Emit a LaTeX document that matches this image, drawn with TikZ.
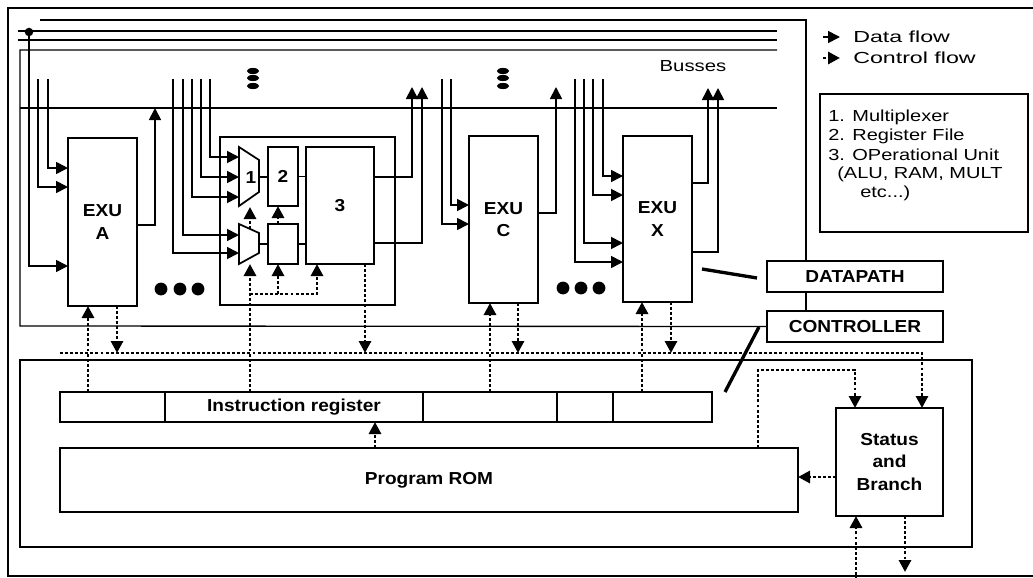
\documentclass[tikz,border=0pt]{standalone}
\usepackage{fontspec}
\setmainfont{Liberation Sans}
\usetikzlibrary{fit,arrows.meta}
\newcommand\hs[2]{\scalebox{#1}[1]{#2}}
\begin{document}
\begin{tikzpicture}[x=0.75pt,y=-0.75pt,
  frame/.style={line width=2.2pt},
  thin/.style={line width=1pt},
  wire/.style={line width=1.3pt},
  blk/.style={draw,line width=2.2pt,inner sep=0pt,outer sep=0pt},
  sblk/.style={draw,line width=1.5pt,inner sep=0pt,outer sep=0pt},
  irc/.style={draw,line width=1pt,inner sep=0pt,outer sep=0pt},
  btxt/.style={inner sep=0pt,align=center,font=\bfseries\fontsize{13}{17}\selectfont},
  ctl/.style={line width=2.2pt,dash pattern=on 2.2pt off 1.6pt},
  arr/.style={-{Triangle[length=9pt,width=9pt]}},
  lbl/.style={font=\fontsize{12}{14}\selectfont,inner sep=0pt},
  pointer/.style={line width=2.5pt}
]
\useasboundingbox (0,0) rectangle (1033,578);

% outer frame
\draw[frame] (1033,8) -- (8,8) -- (8,576) -- (1033,576);

% ---------------- boxes ----------------
\node[blk, fit={(68,138)(137,306)}] (exuA) {};
\node[blk, fit={(220,137)(395,305)}] (mid) {};
\node[sblk, fit={(268,147)(298,206)}] (reg2) {};
\node[sblk, fit={(268,224)(298,264)}] (lreg) {};
\node[sblk, fit={(306,147)(374,264)}] (u3) {};
\node[blk, fit={(469,136)(538,303)}] (exuC) {};
\node[blk, fit={(623,136)(692,302)}] (exuX) {};
\node[blk, fit={(767,261)(943,292)}] (dp) {};
\node[blk, fit={(767,311)(943,342)}] (ctl) {};
\node[blk, fit={(820,94)(1028,232)}] (leg) {};
\node[draw,thin,inner sep=0pt,outer sep=0pt, fit={(20,360)(972,547)}] (ctrlbox) {};
\node[irc, fit={(60,392)(165,422)}] (ir1) {};
\node[irc, fit={(165,392)(423,422)}] (ir2) {};
\node[irc, fit={(423,392)(557,422)}] (ir3) {};
\node[irc, fit={(557,392)(613,422)}] (ir4) {};
\node[irc, fit={(613,392)(712,422)}] (ir5) {};
\draw[line width=2.2pt] (ir1.north west) rectangle (ir5.south east);
\node[blk, fit={(60,448)(798,512)}] (rom) {};
\node[blk, fit={(836,408)(943,516)}] (stat) {};

% ---------------- box texts ----------------
\node[btxt] (exuAt) at (exuA.center) {\hs{1.1}{EXU}\\\hs{1.1}{A}};
\node[btxt] (reg2t) at (reg2.center) {\hs{1.1}{2}};
\node[btxt] (u3t) at (u3.center) {\hs{1.1}{3}};
\node[btxt] (exuCt) at (exuC.center) {\hs{1.1}{EXU}\\\hs{1.1}{C}};
\node[btxt] (exuXt) at (exuX.center) {\hs{1.1}{EXU}\\\hs{1.1}{X}};
\node[btxt] (dpt) at (dp.center) {\hs{1.1}{DATAPATH}};
\node[btxt] (ctlt) at (ctl.center) {\hs{1.1}{CONTROLLER}};
\node[btxt] (ir2t) at (ir2.center) {\hs{1.1}{Instruction register}};
\node[btxt] (romt) at (rom.center) {\hs{1.1}{Program ROM}};
\node[btxt] (statt) at (stat.center) {\hs{1.1}{Status}\\\hs{1.1}{and}\\\hs{1.1}{Branch}};

% multiplexers
\draw[wire] (239,147) -- (259,160) -- (259,192) -- (239,206) -- cycle;
\node[btxt] (mux1) at (251,178) {\hs{1.1}{1}};
\draw[wire] (239,224) -- (259,233) -- (259,253) -- (239,264) -- cycle;
\coordinate (m1o) at (259,177);
\coordinate (m2o) at (259,244);

% ---------------- datapath outline and busses ----------------
\draw[thin] (40,20) -- (806,20) -- (dp.north -| 806,0);
\draw[thin] (dp.south -| 806,0) -- (ctl.north -| 806,0);
\draw[thin] (18,31) -- (777,31);
\draw[thin] (18,40) -- (777,40);
\draw[thin] (777,50) -- (20,50) -- (20,326) -- (ctl.west);
\draw[thin] (20,108) -- (777,108);
\fill (29,32) circle[radius=3.2pt];
\node[lbl] (bus) at (693,66) {\hs{1.27}{Busses}};

% vertical ellipses
\foreach \yy in {71,78,86}{
  \fill (253,\yy) ellipse [x radius=4.6pt, y radius=2.3pt];
  \fill (503,\yy) ellipse [x radius=4.6pt, y radius=2.3pt];
}
% horizontal dots
\foreach \xx in {161,180,198}{\fill (\xx,289) circle[radius=4.8pt];}
\foreach \xx in {563,581,599}{\fill (\xx,288) circle[radius=4.8pt];}

% ---------------- EXU A ----------------
\draw[wire,arr] (29,32) -- (29,266) -- (exuA.west |- 0,266);
\draw[wire,arr] (38,79) -- (38,187) -- (exuA.west |- 0,187);
\draw[wire,arr] (48,79) -- (48,168) -- (exuA.west |- 0,168);
\draw[wire,arr] (exuA.east |- 0,225) -- (155,225) -- (155,108);

% ---------------- middle block ----------------
\draw[wire,arr] (210,79) -- (210,157) -- (239,157);
\draw[wire,arr] (201,79) -- (201,177) -- (239,177);
\draw[wire,arr] (192,79) -- (192,197) -- (239,197);
\draw[wire,arr] (183,79) -- (183,235) -- (239,235);
\draw[wire,arr] (173,79) -- (173,253) -- (239,253);
\draw[wire] (m1o) -- (reg2.west |- m1o);
\draw[wire] (m2o) -- (lreg.west |- m2o);
\draw[wire] (reg2.east) -- (reg2.east -| u3.west);
\draw[wire] (lreg.east) -- (lreg.east -| u3.west);
\draw[wire,arr] (u3.east |- 0,177) -- (412,177) -- (412,87);
\draw[wire,arr] (u3.east |- 0,243) -- (422,243) -- (422,87);
\draw[ctl,arr] (250,229) -- (250,207);
\draw[ctl,arr] (lreg.north -| 278,0) -- (reg2.south -| 278,0);
\draw[ctl,arr] (ir2.north -| 250,0) -- (250,264);
\draw[ctl,arr] (250,294) -- (317,294) -- (u3.south -| 317,0);
\draw[ctl,arr] (278,294) -- (lreg.south -| 278,0);
\draw[ctl,arr] (u3.south -| 365,0) -- (365,353);

% ---------------- EXU C ----------------
\draw[wire,arr] (451,79) -- (451,205) -- (exuC.west |- 0,205);
\draw[wire,arr] (442,79) -- (442,224) -- (exuC.west |- 0,224);
\draw[wire,arr] (exuC.east |- 0,213) -- (556,213) -- (556,87);

% ---------------- EXU X ----------------
\draw[wire,arr] (603,79) -- (603,176) -- (exuX.west |- 0,176);
\draw[wire,arr] (593,79) -- (593,195) -- (exuX.west |- 0,195);
\draw[wire,arr] (584,79) -- (584,243) -- (exuX.west |- 0,243);
\draw[wire,arr] (575,79) -- (575,262) -- (exuX.west |- 0,262);
\draw[wire,arr] (exuX.east |- 0,183) -- (708,183) -- (708,88);
\draw[wire,arr] (exuX.east |- 0,252) -- (718,252) -- (718,88);

% pointers to DATAPATH / CONTROLLER
\draw[pointer] (702,269) -- (757,278);
\draw[pointer] (759,327) -- (725,392);

% ---------------- legend ----------------
\draw[wire,arr] (823,37) -- (840,37);
\node[lbl,anchor=west] (ldata) at (853,37) {\hs{1.45}{Data flow}};
\draw[ctl,arr] (823,58) -- (840,58);
\node[lbl,anchor=west] (lctrl) at (853,58) {\hs{1.45}{Control flow}};
\node[lbl,anchor=west] (l1) at (828,117) {\hs{1.25}{1. Multiplexer}};
\node[lbl,anchor=west] (l2) at (828,136) {\hs{1.25}{2. Register File}};
\node[lbl,anchor=west] (l3) at (828,155) {\hs{1.25}{3. OPerational Unit}};
\node[lbl,anchor=west] (l4) at (837,174) {\hs{1.25}{(ALU, RAM, MULT}};
\node[lbl,anchor=west] (l5) at (860,193) {\hs{1.25}{etc...)}};

% ---------------- controller ----------------
\draw[ctl,arr] (60,353) -- (922,353) -- (stat.north -| 922,0);
\draw[ctl,arr] (ir1.north -| 88,0) -- (exuA.south -| 88,0);
\draw[ctl,arr] (exuA.south -| 117,0) -- (117,353);
\draw[ctl,arr] (ir3.north -| 490,0) -- (exuC.south -| 490,0);
\draw[ctl,arr] (exuC.south -| 518,0) -- (518,353);
\draw[ctl,arr] (ir5.north -| 642,0) -- (exuX.south -| 642,0);
\draw[ctl,arr] (exuX.south -| 671,0) -- (671,353);
\draw[ctl,arr] (rom.north -| 375,0) -- (ir2.south -| 375,0);
\draw[ctl,arr] (rom.north -| 758,0) -- (758,370) -- (855,370) -- (stat.north -| 855,0);
\draw[ctl,arr] (stat.west |- 0,477) -- (rom.east |- 0,477);
\draw[ctl,arr] (856,580) -- (stat.south -| 856,0);
\draw[ctl,arr] (stat.south -| 905,0) -- (905,572);
\end{tikzpicture}
\end{document}
